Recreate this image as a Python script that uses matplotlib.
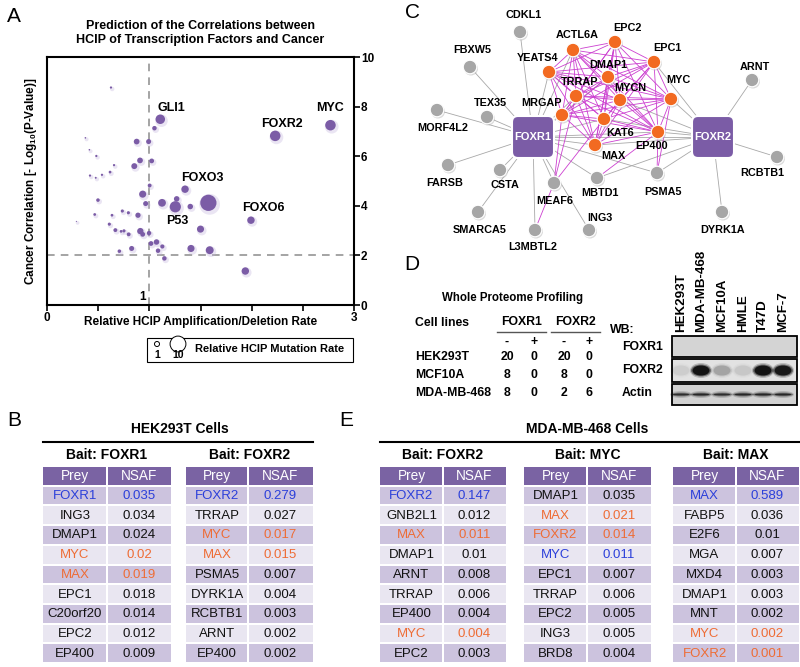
import matplotlib
matplotlib.use('Agg')
import matplotlib.pyplot as plt
from matplotlib.patches import Rectangle, FancyBboxPatch, Ellipse, Circle

plt.rcParams['font.family'] = ['Liberation Sans', 'DejaVu Sans']
plt.rcParams['mathtext.fontset'] = 'custom'
plt.rcParams['mathtext.rm'] = 'Liberation Sans'
plt.rcParams['mathtext.bf'] = 'Liberation Sans:bold'

# ---------------- Panel A data ----------------
amp_rate = [0.625, 1.107, 1.05, 2.77, 2.23, 0.375, 0.876, 0.993, 0.414, 0.482,
            0.909, 1.023, 0.853, 0.655, 0.616, 0.537, 0.42, 0.476, 1.003, 1.349,
            0.935, 0.498, 1.267, 1.124, 0.964, 1.254, 1.40, 1.577, 0.466, 0.736,
            0.635, 0.795, 0.889, 0.287, 1.993, 0.609, 0.668, 0.752, 0.724, 0.798,
            0.912, 0.935, 0.997, 1.50, 1.016, 1.07, 1.127, 0.827, 0.707, 1.085,
            1.407, 1.59, 1.147, 1.938]
cancer_corr = [8.77, 7.49, 7.13, 7.25, 6.82, 6.74, 6.59, 6.59, 6.26, 6.01,
               5.83, 5.81, 5.60, 5.64, 5.36, 5.25, 5.22, 5.13, 4.82, 4.67,
               4.47, 4.23, 4.28, 4.12, 4.09, 3.96, 3.97, 4.12, 3.65, 3.79,
               3.62, 3.72, 3.62, 3.37, 3.42, 3.26, 3.02, 2.99, 2.97, 2.85,
               2.98, 2.85, 2.90, 3.06, 2.48, 2.54, 2.36, 2.28, 2.17, 2.19,
               2.28, 2.21, 1.88, 1.37]
mut_rate = [0.2, 3.6, 0.8, 4.4, 4.4, 0.1, 1.3, 1.0, 0.1, 0.2,
            1.3, 0.9, 1.4, 0.2, 0.3, 0.2, 0.2, 0.15, 0.6, 2.2,
            2.0, 0.5, 1.2, 2.4, 1.0, 5.0, 1.2, 10.5, 0.3, 0.4,
            0.3, 0.4, 1.1, 0.05, 2.2, 0.4, 0.6, 0.4, 0.3, 0.6,
            1.6, 0.9, 0.8, 2.0, 0.9, 1.2, 0.7, 1.0, 0.5, 0.8,
            2.0, 2.5, 0.8, 2.2]
tf_names = ['GLI1', 'FOXR2', 'MYC', 'FOXO3', 'P53', 'FOXO6']
tf_label_x = [1.22, 2.30, 2.77, 1.52, 1.27, 2.11]
tf_label_y = [7.96, 7.29, 7.95, 5.13, 3.40, 3.92]
legend_rates = [1, 10]

# ---------------- Panel B / E tables ----------------
b1_prey = ['FOXR1', 'ING3', 'DMAP1', 'MYC', 'MAX', 'EPC1', 'C20orf20', 'EPC2', 'EP400']
b1_nsaf = [0.035, 0.034, 0.024, 0.02, 0.019, 0.018, 0.014, 0.012, 0.009]
b1_hl = ['b', 'k', 'k', 'o', 'o', 'k', 'k', 'k', 'k']
b2_prey = ['FOXR2', 'TRRAP', 'MYC', 'MAX', 'PSMA5', 'DYRK1A', 'RCBTB1', 'ARNT', 'EP400']
b2_nsaf = [0.279, 0.027, 0.017, 0.015, 0.007, 0.004, 0.003, 0.002, 0.002]
b2_hl = ['b', 'k', 'o', 'o', 'k', 'k', 'k', 'k', 'k']
e1_prey = ['FOXR2', 'GNB2L1', 'MAX', 'DMAP1', 'ARNT', 'TRRAP', 'EP400', 'MYC', 'EPC2']
e1_nsaf = [0.147, 0.012, 0.011, 0.01, 0.008, 0.006, 0.004, 0.004, 0.003]
e1_hl = ['b', 'k', 'o', 'k', 'k', 'k', 'k', 'o', 'k']
e2_prey = ['DMAP1', 'MAX', 'FOXR2', 'MYC', 'EPC1', 'TRRAP', 'EPC2', 'ING3', 'BRD8']
e2_nsaf = [0.035, 0.021, 0.014, 0.011, 0.007, 0.006, 0.005, 0.005, 0.004]
e2_hl = ['k', 'o', 'o', 'b', 'k', 'k', 'k', 'k', 'k']
e3_prey = ['MAX', 'FABP5', 'E2F6', 'MGA', 'MXD4', 'DMAP1', 'MNT', 'MYC', 'FOXR2']
e3_nsaf = [0.589, 0.036, 0.01, 0.007, 0.003, 0.003, 0.002, 0.002, 0.001]
e3_hl = ['b', 'k', 'k', 'k', 'k', 'k', 'k', 'o', 'o']

# ---------------- Panel D ----------------
wpp_cells = ['HEK293T', 'MCF10A', 'MDA-MB-468']
foxr1_minus = [20, 8, 8]
foxr1_plus = [0, 0, 0]
foxr2_minus = [20, 8, 2]
foxr2_plus = [0, 0, 6]
wb_lanes = ['HEK293T', 'MDA-MB-468', 'MCF10A', 'HMLE', 'T47D', 'MCF-7']
wb_foxr1 = [0.0, 0.0, 0.0, 0.0, 0.0, 0.0]
wb_foxr2 = [0.06, 1.0, 0.2, 0.08, 1.0, 0.95]
wb_actin = [0.75, 0.8, 0.75, 0.8, 0.8, 0.8]

# ---------------- Panel C network ----------------
net_nodes = {
    'FOXR1': (533, 137), 'FOXR2': (713, 137),
    'CDKL1': (520, 32), 'FBXW5': (470, 67), 'ARNT': (752, 80), 'TEX35': (487, 117),
    'MORF4L2': (437, 110), 'FARSB': (448, 165), 'CSTA': (500, 170),
    'SMARCA5': (478, 212), 'L3MBTL2': (535, 230), 'MEAF6': (554, 183),
    'ING3': (589, 230), 'MBTD1': (597, 178), 'PSMA5': (657, 173),
    'DYRK1A': (722, 212), 'RCBTB1': (777, 157),
    'ACTL6A': (573, 50), 'EPC2': (615, 42), 'EPC1': (654, 62), 'YEATS4': (549, 72),
    'DMAP1': (608, 77), 'TRRAP': (576, 96), 'MYCN': (620, 100), 'MYC': (671, 99),
    'MRGAP': (562, 115), 'KAT6': (604, 119), 'EP400': (658, 132), 'MAX': (595, 145),
}
net_labels = {
    'FOXR1': None, 'FOXR2': None,
    'CDKL1': (524, 15), 'FBXW5': (472, 50), 'ARNT': (755, 67), 'TEX35': (490, 103),
    'MORF4L2': (443, 128), 'FARSB': (445, 183), 'CSTA': (505, 185),
    'SMARCA5': (480, 230), 'L3MBTL2': (533, 247), 'MEAF6': (555, 201),
    'ING3': (600, 218), 'MBTD1': (600, 193), 'PSMA5': (663, 192),
    'DYRK1A': (723, 230), 'RCBTB1': (762, 173),
    'ACTL6A': (577, 35), 'EPC2': (627, 28), 'EPC1': (667, 48), 'YEATS4': (538, 58),
    'DMAP1': (608, 65), 'TRRAP': (580, 82), 'MYCN': (630, 88), 'MYC': (678, 80),
    'MRGAP': (542, 103), 'KAT6': (620, 133), 'EP400': (652, 146), 'MAX': (613, 156),
}
orange_nodes = ['ACTL6A', 'EPC2', 'EPC1', 'YEATS4', 'DMAP1', 'TRRAP', 'MYCN', 'MYC',
                'MRGAP', 'KAT6', 'EP400', 'MAX']
gray_edges = [('FOXR1', n) for n in ['CDKL1', 'FBXW5', 'TEX35', 'MORF4L2', 'FARSB', 'CSTA',
                                     'SMARCA5', 'L3MBTL2', 'MEAF6', 'ING3', 'MBTD1', 'PSMA5',
                                     'YEATS4', 'MRGAP', 'TRRAP', 'ACTL6A', 'KAT6', 'MAX',
                                     'EP400', 'FOXR2', 'DMAP1']] + \
             [('FOXR2', n) for n in ['ARNT', 'RCBTB1', 'DYRK1A', 'PSMA5', 'MYC', 'EP400',
                                     'MAX', 'KAT6', 'MBTD1', 'EPC1', 'MYCN']]
magenta_extra = [('MEAF6', 'L3MBTL2'), ('MEAF6', 'TRRAP'), ('MEAF6', 'MRGAP'),
                 ('MBTD1', 'EP400'), ('PSMA5', 'EP400'), ('PSMA5', 'MYC'), ('MEAF6', 'KAT6')]

# ======================================================================
fig = plt.figure(figsize=(8, 6.67), dpi=100)
ov = fig.add_axes([0, 0, 1, 1])
ov.set_xlim(0, 800)
ov.set_ylim(667, 0)
ov.axis('off')

PURPLE = '#7B5CA6'
BLUE = '#2B3FDA'
ORANGE = '#EE6C35'
SCALE = 13.0

# ---------------- Panel A ----------------
ax = fig.add_axes([47 / 800, 1 - 305 / 667, 307 / 800, 248 / 667])
ax.set_xlim(0, 3)
ax.set_ylim(0, 10)
sizes = [SCALE * r for r in mut_rate]
ax.scatter([x + 0.012 for x in amp_rate], [y - 0.06 for y in cancer_corr], s=[v * 1.6 + 6 for v in sizes],
           color='#C4B6DD', alpha=0.35, linewidths=0, zorder=2)
ax.scatter(amp_rate, cancer_corr, s=sizes, color=PURPLE, linewidths=0, zorder=3)
ax.axvline(1, color='#8C8C8C', ls=(0, (5, 4)), lw=1.1, zorder=1)
ax.axhline(2, color='#8C8C8C', ls=(0, (5, 4)), lw=1.1, zorder=1)
for n, lx, ly in zip(tf_names, tf_label_x, tf_label_y):
    ax.text(lx, ly, n, fontsize=9, fontweight='bold', ha='center', va='center')
ax.text(0.93, 0.32, '1', fontsize=8.5, fontweight='bold', ha='center', va='center')
ax.yaxis.tick_right()
ax.set_yticks([0, 2, 4, 6, 8, 10])
ax.set_yticklabels(['0', '2', '4', '6', '8', '10'], fontsize=8.5, fontweight='bold')
ax.set_xticks([0, 0.5, 1, 1.5, 2, 2.5, 3])
ax.set_xticklabels(['0', '', '', '', '', '', '3'], fontsize=8.5, fontweight='bold')
ax.tick_params(axis='both', direction='out', length=4, width=1.2, pad=1)
for sp in ax.spines.values():
    sp.set_linewidth(1.5)
ax.set_xlabel('Relative HCIP Amplification/Deletion Rate', fontsize=8.5, fontweight='bold', labelpad=-6)
ax.set_ylabel(r'Cancer Correlation [- Log$_{\mathbf{10}}$(P-Value)]', fontsize=8.5,
              fontweight='bold', labelpad=6)
ax.yaxis.set_label_position('left')
ax.set_title('Prediction of the Correlations between\nHCIP of Transcription Factors and Cancer',
             fontsize=9, fontweight='bold', pad=10, linespacing=1.25)

# legend box
ov.add_patch(Rectangle((147, 338), 206, 24, fill=False, ec='black', lw=0.8))
lx = [157, 178]
ov.scatter(lx, [344, 344], s=[SCALE * r for r in legend_rates], facecolor='white',
           edgecolor='black', lw=0.7)
for r, x in zip(legend_rates, lx):
    ov.text(x, 355, str(r), fontsize=7.5, fontweight='bold', ha='center', va='center')
ov.text(195, 349, 'Relative HCIP Mutation Rate', fontsize=8, fontweight='bold', va='center')

# ---------------- Panel letters ----------------
for letter, (x, y) in zip('ABCDE', [(14, 16), (14, 420), (412, 13), (412, 264), (346, 420)]):
    ov.text(x, y, letter, fontsize=15, ha='center', va='center')

# ---------------- Panel C ----------------
for a, b in gray_edges:
    (x1, y1), (x2, y2) = net_nodes[a], net_nodes[b]
    ov.plot([x1, x2], [y1, y2], color='#A8A8A8', lw=0.6, zorder=2)
mag = [(orange_nodes[i], orange_nodes[j]) for i in range(len(orange_nodes))
       for j in range(i + 1, len(orange_nodes))] + magenta_extra
for a, b in mag:
    (x1, y1), (x2, y2) = net_nodes[a], net_nodes[b]
    ov.plot([x1, x2], [y1, y2], color='#CC3FD0', lw=0.6, zorder=3)
for n, (x, y) in net_nodes.items():
    if n in ('FOXR1', 'FOXR2'):
        ov.add_patch(FancyBboxPatch((x - 19, y - 19), 38, 38,
                                    boxstyle='round,pad=2,rounding_size=6',
                                    fc=PURPLE, ec='white', lw=1.5, zorder=6))
        ov.text(x, y, n, color='white', fontsize=8, fontweight='bold',
                ha='center', va='center', zorder=7)
    else:
        fc = '#F26A21' if n in orange_nodes else '#A6A6A6'
        ov.add_patch(Circle((x + 1, y + 1.5), 7, fc='#B0B0B0', ec='none', alpha=0.45, zorder=4))
        ov.add_patch(Circle((x, y), 6.8, fc=fc, ec='white', lw=0.9, zorder=5))
        lp = net_labels[n]
        ov.text(lp[0], lp[1], n, fontsize=7.8, fontweight='bold', ha='center',
                va='center', zorder=8)

# ---------------- Panel D ----------------
ov.text(513, 298, 'Whole Proteome Profiling', fontsize=8.3, fontweight='bold', ha='center', va='center')
ov.text(415, 323, 'Cell lines', fontsize=8.8, fontweight='bold', ha='left', va='center')
ov.text(522, 322, 'FOXR1', fontsize=8.8, fontweight='bold', ha='center', va='center')
ov.text(575, 322, 'FOXR2', fontsize=8.8, fontweight='bold', ha='center', va='center')
ov.plot([497, 546], [332, 332], color='#555555', lw=1)
ov.plot([551, 600], [332, 332], color='#555555', lw=1)
colx = [507, 534, 564, 589]
for x, s in zip(colx, ['-', '+', '-', '+']):
    ov.text(x, 342, s, fontsize=8.8, fontweight='bold', ha='center', va='center')
rowy = [357, 375, 393]
for i, c in enumerate(wpp_cells):
    ov.text(415, rowy[i], c, fontsize=8.8, fontweight='bold', ha='left', va='center')
    for x, v in zip(colx, [foxr1_minus[i], foxr1_plus[i], foxr2_minus[i], foxr2_plus[i]]):
        ov.text(x, rowy[i], str(v), fontsize=8.8, fontweight='bold', ha='center', va='center')

ov.text(610, 330, 'WB:', fontsize=8.8, fontweight='bold', ha='left', va='center')
ov.text(622, 347, 'FOXR1', fontsize=8.8, fontweight='bold', ha='left', va='center')
ov.text(622, 370, 'FOXR2', fontsize=8.8, fontweight='bold', ha='left', va='center')
ov.text(622, 393, 'Actin', fontsize=8.8, fontweight='bold', ha='left', va='center')
lane_x = [681, 701, 722, 743, 763, 783]
for x, n in zip(lane_x, wb_lanes):
    ov.text(x, 332, n, fontsize=9.6, fontweight='bold', rotation=90, ha='center', va='bottom')
blots = [(336, 357, wb_foxr1, '#D4D4D4', 10), (359, 382, wb_foxr2, '#E2E2E2', 12),
         (384, 405, wb_actin, '#D2D2D2', 4)]
for top, bot, vals, bg, bh in blots:
    ov.add_patch(Rectangle((672, top), 125, bot - top, fc=bg, ec='none', zorder=2))
    yc = (top + bot) / 2
    for x, v in zip(lane_x, vals):
        if v <= 0:
            continue
        for k, (w, h, a) in enumerate([(22, bh + 3, 0.2), (20, bh, 0.45), (17, bh - 2, 0.9)]):
            ov.add_patch(Ellipse((x, yc), w, max(h, 2), fc='#0A0A0A', ec='none',
                                 alpha=a * v, zorder=3 + k))
    ov.add_patch(Rectangle((672, top), 125, bot - top, fill=False, ec='black', lw=1.3, zorder=8))

# ---------------- Tables B & E ----------------
HDR = '#7A63A3'
ROW_A = '#CCC3DE'
ROW_B = '#E9E6F1'
TCOL = {'k': '#111111', 'b': BLUE, 'o': ORANGE}


def draw_table(x0, xm, x1, prey, nsaf, hl, title):
    top, step, h = 467, 19.7, 17.7
    ov.text((x0 + x1) / 2, 455, title, fontsize=10, fontweight='bold', ha='center', va='center')
    ov.add_patch(Rectangle((x0, top), xm - x0 - 1, h, fc=HDR, ec='none'))
    ov.add_patch(Rectangle((xm + 1, top), x1 - xm - 1, h, fc=HDR, ec='none'))
    ov.text((x0 + xm) / 2, top + h / 2 + 0.5, 'Prey', color='white', fontsize=9.8,
            ha='center', va='center')
    ov.text((xm + x1) / 2, top + h / 2 + 0.5, 'NSAF', color='white', fontsize=9.8,
            ha='center', va='center')
    for i, (p, v, c) in enumerate(zip(prey, nsaf, hl)):
        y = top + (i + 1) * step
        fc = ROW_A if i % 2 == 0 else ROW_B
        ov.add_patch(Rectangle((x0, y), xm - x0 - 1, h, fc=fc, ec='none'))
        ov.add_patch(Rectangle((xm + 1, y), x1 - xm - 1, h, fc=fc, ec='none'))
        ov.text((x0 + xm) / 2, y + h / 2 + 0.5, p, color=TCOL[c], fontsize=9.5,
                ha='center', va='center')
        ov.text((xm + x1) / 2, y + h / 2 + 0.5, f'{v:g}', color=TCOL[c], fontsize=9.5,
                ha='center', va='center')


ov.text(180, 429, 'HEK293T Cells', fontsize=10, fontweight='bold', ha='center', va='center')
ov.plot([43, 313], [442, 442], color='black', lw=1.5)
draw_table(43, 107, 171, b1_prey, b1_nsaf, b1_hl, 'Bait: FOXR1')
draw_table(186, 248, 313, b2_prey, b2_nsaf, b2_hl, 'Bait: FOXR2')

ov.text(587, 429, 'MDA-MB-468 Cells', fontsize=10, fontweight='bold', ha='center', va='center')
ov.plot([380, 800], [442, 442], color='black', lw=1.5)
draw_table(380, 443, 506, e1_prey, e1_nsaf, e1_hl, 'Bait: FOXR2')
draw_table(524, 587, 651, e2_prey, e2_nsaf, e2_hl, 'Bait: MYC')
draw_table(673, 736, 799, e3_prey, e3_nsaf, e3_hl, 'Bait: MAX')

fig.savefig('out.png', dpi=100)
